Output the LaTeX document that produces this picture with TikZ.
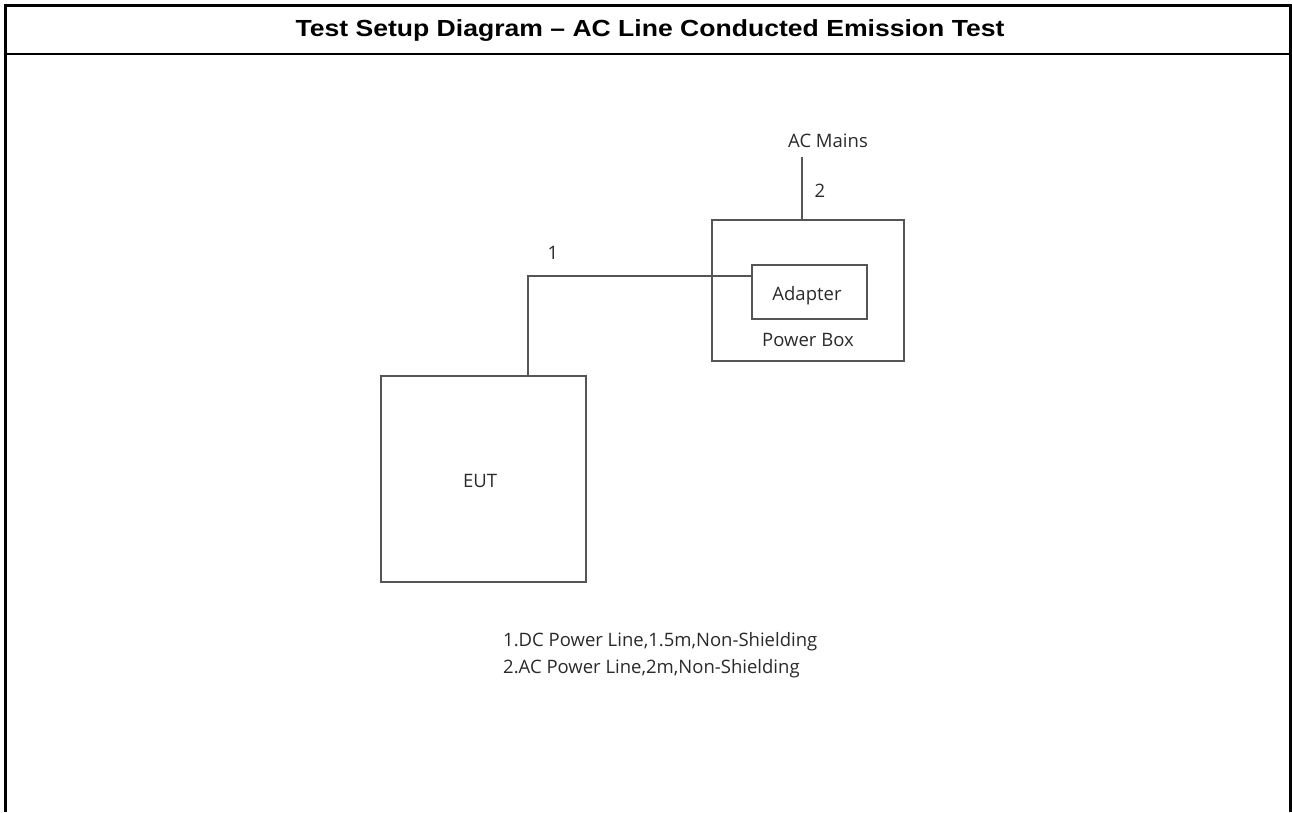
\documentclass[tikz,border=0pt]{standalone}
\usepackage{fontspec}
\setmainfont{Open Sans}
\newfontfamily\titlefont{Liberation Sans}
\definecolor{linegray}{HTML}{555555}
\definecolor{textgray}{HTML}{2A2A2A}
\begin{document}
\begin{tikzpicture}[x=1pt,y=-1pt,
  frame/.style={line width=3pt,black},
  box/.style={draw=linegray,line width=1.1pt,rectangle,inner sep=0pt},
  wire/.style={draw=linegray,line width=1.1pt},
  lbl/.style={text=textgray,font=\fontsize{18.5}{20}\selectfont,inner sep=0pt},
]
\useasboundingbox (0,0) rectangle (1292,812);
% frame
\draw[frame] (5.5,812) -- (5.5,5.5) -- (1290.5,5.5) -- (1290.5,812);
\draw[line width=2.2pt,black] (5.5,54) -- (1290.5,54);
\node[font=\titlefont\bfseries\fontsize{23.3}{26}\selectfont,inner sep=0pt,xscale=1.14] (title) at (650,31) {Test Setup Diagram – AC Line Conducted Emission Test};
% boxes
\node[box,minimum width=192pt,minimum height=141pt] (pb) at (808,290.5) {};
\node[box,minimum width=115pt,minimum height=54pt] (ad) at (809.5,292) {};
\node[lbl] (adt) at (807,296) {Adapter};
\node[lbl] (pbt) at (808,340) {Power Box};
\node[box,minimum width=205pt,minimum height=206pt] (eut) at (483.5,479) {};
\node[lbl] (eutt) at (480,481) {EUT};
% AC mains
\node[lbl] (ac) at (828,141) {AC Mains};
\coordinate (acend) at (802,157);
\draw[wire] (acend) -- (acend |- pb.north);
\node[lbl] (n2) at (820,191) {2};
% DC line
\coordinate (j) at (528,276);
\draw[wire] (j -| ad.west) -- (j) -- (j |- eut.north);
\node[lbl] (n1) at (553,253) {1};
% legend
\node[lbl,anchor=west] (l1) at (503,641.5) {1.DC Power Line,1.5m,Non-Shielding};
\node[lbl,anchor=west] (l2) at (503,669) {2.AC Power Line,2m,Non-Shielding};
\end{tikzpicture}
\end{document}
